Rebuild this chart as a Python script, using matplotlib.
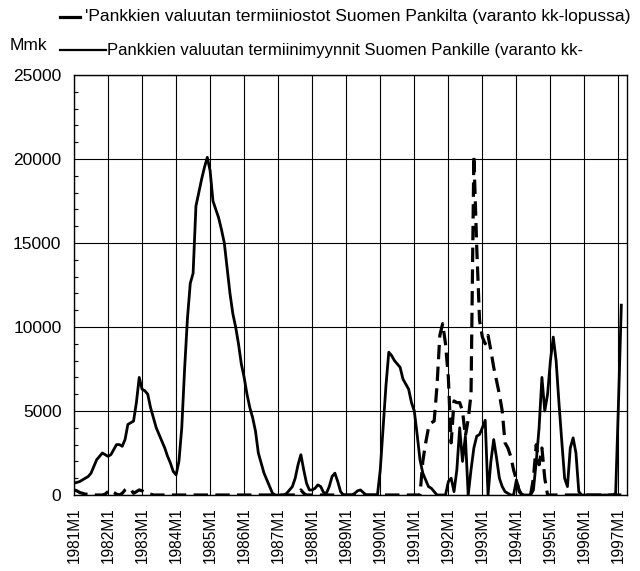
import matplotlib
matplotlib.use("Agg")
import matplotlib.pyplot as plt
from matplotlib.lines import Line2D
from matplotlib.ticker import MultipleLocator
import numpy as np

plt.rcParams['font.family'] = ['Liberation Sans', 'DejaVu Sans']

# Monthly stock at month end, Mmk, 1981M1 .. 1997M2
years = list(range(1981, 1998))

sales = {  # solid: termiinimyynnit Suomen Pankille
    1981: [700, 750, 800, 900, 1000, 1100, 1300, 1700, 2100, 2300, 2500, 2400],
    1982: [2300, 2400, 2700, 3000, 3000, 2900, 3300, 4200, 4300, 4400, 5500, 7000],
    1983: [6300, 6200, 6000, 5200, 4600, 4000, 3600, 3200, 2800, 2300, 1900, 1400],
    1984: [1200, 2000, 4000, 7500, 10500, 12600, 13200, 17200, 18000, 18800, 19500, 20100],
    1985: [19300, 17500, 17000, 16500, 15800, 15000, 13500, 12000, 10800, 10000, 9000, 7800],
    1986: [7000, 6000, 5200, 4600, 3800, 2500, 1900, 1300, 900, 500, 100, 0],
    1987: [0, 0, 0, 100, 300, 500, 1000, 1800, 2400, 1500, 700, 300],
    1988: [300, 400, 600, 500, 150, 100, 500, 1100, 1300, 800, 200, 0],
    1989: [0, 0, 0, 100, 250, 300, 150, 0, 0, 0, 0, 0],
    1990: [1500, 4000, 6500, 8500, 8300, 8000, 7800, 7600, 6900, 6600, 6300, 5500],
    1991: [5000, 3600, 2100, 1300, 900, 500, 400, 200, 0, 0, 0, 0],
    1992: [800, 1000, 200, 1500, 4000, 2000, 3500, 0, 1500, 2800, 3500, 3600],
    1993: [4000, 4450, 0, 2000, 3300, 2200, 1000, 500, 200, 100, 0, 0],
    1994: [900, 300, 0, 0, 0, 0, 300, 2000, 4000, 7000, 5000, 6000],
    1995: [8000, 9400, 8000, 5500, 3200, 1000, 500, 2800, 3400, 2500, 200, 0],
    1996: [0, 0, 0, 0, 0, 0, 0, 0, 0, 0, 0, 100],
    1997: [5500, 11300],
}

purchases = {  # dashed: termiiniostot Suomen Pankilta
    1981: [300, 250, 150, 100, 50, 50, 0, 0, 0, 0, 0, 50],
    1982: [200, 300, 150, 50, 0, 100, 300, 400, 350, 100, 200, 300],
    1983: [250, 150, 100, 50, 0, 0, 0, 0, 0, 0, 0, 0],
    1984: [0] * 12,
    1985: [0] * 12,
    1986: [0] * 12,
    1987: [0, 0, 0, 0, 0, 0, 0, 100, 300, 100, 0, 0],
    1988: [0] * 12,
    1989: [0] * 12,
    1990: [0] * 12,
    1991: [0, 0, 0, 2000, 3100, 4000, 4300, 4400, 6500, 9500, 10200, 9000],
    1992: [7000, 3100, 5600, 5500, 5500, 5000, 3500, 4500, 6000, 20200, 14800, 10400],
    1993: [9400, 9000, 9500, 8600, 7600, 6800, 6000, 5000, 3100, 2800, 2300, 1500],
    1994: [900, 200, 0, 0, 0, 0, 1000, 3000, 1800, 2800, 1000, 0],
    1995: [0] * 12,
    1996: [0] * 12,
    1997: [0, 0],
}

sales_v = np.concatenate([sales[y] for y in years])
purch_v = np.concatenate([purchases[y] for y in years])
months = np.arange(len(sales_v))
tick_labels = [f"{y}M1" for y in years]

label_purch = "'Pankkien valuutan termiiniostot Suomen Pankilta (varanto kk-lopussa)"
label_sales = "Pankkien valuutan termiinimyynnit Suomen Pankille (varanto kk-"

fig = plt.figure(figsize=(6.4, 5.71), dpi=100)
ax = fig.add_axes([74 / 640, 76 / 571, 553 / 640, 420 / 571])

ax.plot(months, purch_v, color="black", lw=2.3, ls=(0, (4.5, 2.3)))
ax.plot(months, sales_v, color="black", lw=2.0)

ax.set_xlim(0, 195)
ax.set_ylim(0, 25000)
ax.set_xticks(np.arange(0, 12 * len(years), 12))
ax.set_xticklabels(tick_labels, rotation=90, fontsize=11.2)
ax.yaxis.set_major_locator(MultipleLocator(5000))
ax.yaxis.set_minor_locator(MultipleLocator(1000))
ax.tick_params(axis="y", which="major", labelsize=12.5, length=0, pad=9)
ax.tick_params(axis="y", which="minor", direction="in", length=3, width=0.8)
ax.tick_params(axis="x", length=0, pad=9)
ax.grid(True, which="major", color="black", lw=0.8)
for s in ax.spines.values():
    s.set_linewidth(1.0)

# legend and unit drawn above the axes
fig.add_artist(Line2D([60 / 640, 80 / 640], [1 - 17 / 571] * 2, color="black", lw=2.3))
fig.text(85 / 640, 1 - 17 / 571, label_purch, fontsize=12.6, va="center", ha="left")
fig.add_artist(Line2D([60 / 640, 106 / 640], [1 - 50 / 571] * 2, color="black", lw=1.6))
fig.text(107 / 640, 1 - 50 / 571, label_sales, fontsize=12.0, va="center", ha="left")
fig.text(10 / 640, 1 - 45 / 571, "Mmk", fontsize=12.5, va="center", ha="left")

fig.savefig("out.png", dpi=100)
